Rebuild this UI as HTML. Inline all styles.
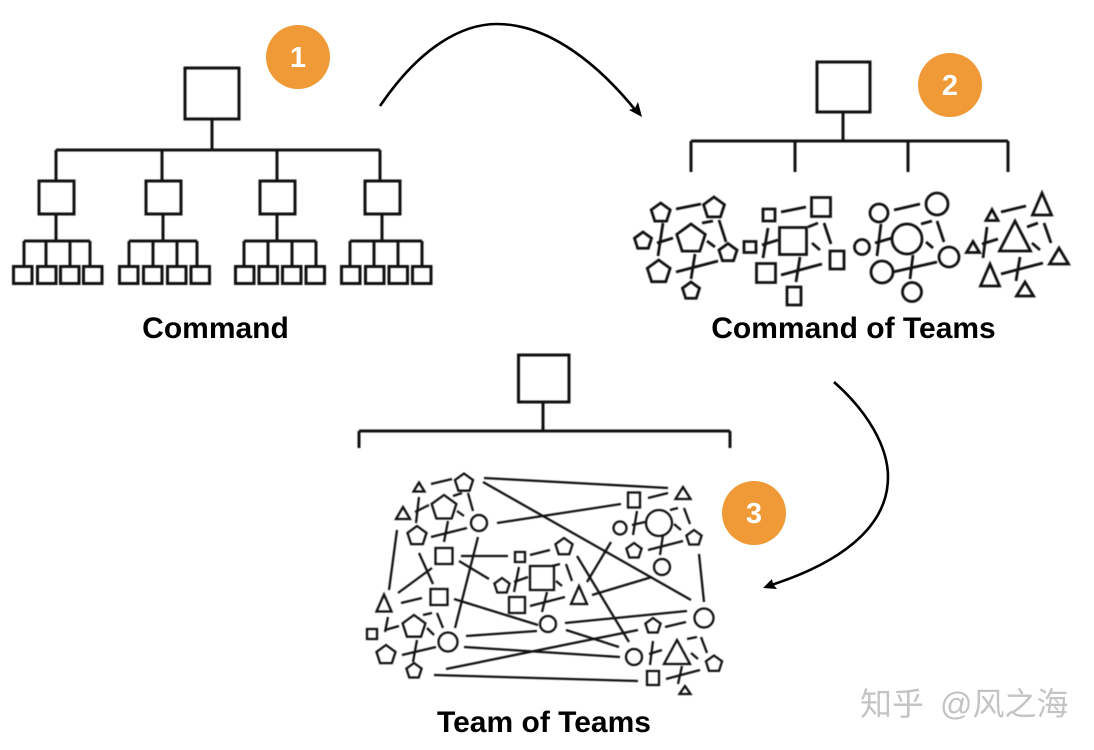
<!DOCTYPE html>
<html>
<head>
<meta charset="utf-8">
<style>
html,body{margin:0;padding:0;background:#fff;width:1094px;height:750px;overflow:hidden}
svg{display:block}
.lab{font-family:"Liberation Sans",Arial,sans-serif;font-weight:700;font-size:30px;fill:#000;text-anchor:middle}
.num{font-family:"Liberation Sans",Arial,sans-serif;font-weight:700;font-size:29px;fill:#fff;text-anchor:middle}
.wm{font-family:"Liberation Sans","Noto Sans CJK SC",sans-serif;font-size:32px;fill:#c4c4c4}
.k{fill:none;stroke:#111;vector-effect:non-scaling-stroke}
</style>
</head>
<body>
<svg width="1094" height="750" viewBox="0 0 1094 750" xmlns="http://www.w3.org/2000/svg">
<defs>
<polygon id="p" class="k" points="0,-1 .951,-.309 .588,.809 -.588,.809 -.951,-.309"/>
<polygon id="t" class="k" points="0,-.5 .5,.5 -.5,.5"/>
<rect id="s" class="k" x="-.5" y="-.5" width="1" height="1"/>
<circle id="c" class="k" r="1"/>
</defs>

<g style="filter:blur(.4px)">
<!-- Command -->
<g fill="none" stroke="#111" stroke-width="3">
<rect x="185" y="68" width="54" height="51"/>
<path d="M212 119V150M56 150H380M56 150V181M162 150V181M277 150V181M380 150V181"/>
<rect x="39" y="181" width="35" height="33"/>
<rect x="146" y="181" width="35" height="33"/>
<rect x="260" y="181" width="35" height="33"/>
<rect x="365" y="181" width="35" height="33"/>
<path d="M56 214V241M24 241H90M24 241V266M46 241V266M70 241V266M90 241V266"/>
<path d="M163 214V241M129 241H197M129 241V266M153 241V266M177 241V266M197 241V266"/>
<path d="M277 214V241M244 241H316M244 241V266M268 241V266M292 241V266M316 241V266"/>
<path d="M382 214V241M350 241H422M350 241V266M374 241V266M398 241V266M422 241V266"/>
<path d="M13.500 266.500h18.500v17h-18.500zM37.500 266.500h18.500v17h-18.500zM60.500 266.500h18.500v17h-18.500zM83.500 266.500h18.500v17h-18.500z"/>
<path d="M119.500 266.500h18.500v17h-18.500zM143.500 266.500h18.500v17h-18.500zM167.500 266.500h18.500v17h-18.500zM191 266.500h18.500v17h-18.500z"/>
<path d="M235.500 266.500h18.500v17h-18.500zM259 266.500h18.500v17h-18.500zM282.500 266.500h18.500v17h-18.500zM306 266.500h18.500v17h-18.500z"/>
<path d="M341.500 266.500h18.500v17h-18.500zM365.500 266.500h18.500v17h-18.500zM389 266.500h18.500v17h-18.500zM412.500 266.500h18.500v17h-18.500z"/>
</g>

<!-- Command of Teams -->
<g fill="none" stroke="#111" stroke-width="3">
<rect x="817" y="62" width="53" height="50"/>
<path d="M843 112V141M691 141H1008M691 141V172M795 141V172M908 141V172M1008 141V172"/>
</g>
<g stroke-width="2.800" fill="none" stroke="#111">
<path d="M676 209L701 204M702 223L713 221M719 220L726 242M707 241L715 247M663 223L658 256M657 243L673 238M695 254L691 279M676 272L718 261"/>
<path d="M781 212L806 207M808 227L818 223M824 223L831 244M812 243L820 250M768 228L763 258M762 245L778 240M800 257L796 282M781 275L822 264"/>
<path d="M894 210L920 204M921 224L932 221M937 221L944 242M926 242L933 248M881 224L877 256M875 243L892 238M913 255L910 279M893 272L937 262"/>
<path d="M1001 212L1026 206M1027 227L1038 223M1044 223L1051 243M1032 243L1040 250M987 227L983 258M982 244L998 239M1020 257L1016 281M1001 274L1043 263"/>
</g>
<g stroke-width="2.800" fill="#fff">
<use href="#p" transform="translate(660.700,213) scale(10)"/>
<use href="#p" transform="translate(714,208) scale(11)"/>
<use href="#p" transform="translate(643,241) scale(9)"/>
<use href="#p" transform="translate(691,239) scale(15)"/>
<use href="#p" transform="translate(728,253) scale(9.500)"/>
<use href="#p" transform="translate(658.700,272) scale(12)"/>
<use href="#p" transform="translate(691,291) scale(9)"/>
<use href="#s" transform="translate(769,215) scale(12)"/>
<use href="#s" transform="translate(821,207) scale(19)"/>
<use href="#s" transform="translate(750,247) scale(12,11)"/>
<use href="#s" transform="translate(793,241) scale(27)"/>
<use href="#s" transform="translate(837,260) scale(14,18)"/>
<use href="#s" transform="translate(766,273) scale(19)"/>
<use href="#s" transform="translate(794,296) scale(14,18)"/>
<use href="#c" transform="translate(879,213) scale(9)"/>
<use href="#c" transform="translate(937,204) scale(11)"/>
<use href="#c" transform="translate(862,247) scale(7.500)"/>
<use href="#c" transform="translate(907,239) scale(15)"/>
<use href="#c" transform="translate(949,257) scale(10)"/>
<use href="#c" transform="translate(882,272) scale(11)"/>
<use href="#c" transform="translate(912,292) scale(9.500)"/>
<use href="#t" transform="translate(992,215) scale(12,11)"/>
<use href="#t" transform="translate(1042,204) scale(19,22)"/>
<use href="#t" transform="translate(973,247) scale(13,11)"/>
<use href="#t" transform="translate(1015,236) scale(31,30)"/>
<use href="#t" transform="translate(1059,256) scale(19,16)"/>
<use href="#t" transform="translate(990,275) scale(19,22)"/>
<use href="#t" transform="translate(1025,289) scale(17,14)"/>
</g>

<!-- Team of Teams -->
<g fill="none" stroke="#111" stroke-width="3">
<rect x="518.500" y="355" width="50.500" height="47"/>
<path d="M543 402V431M359 431H730M359 431V448M730 431V448"/>
</g>
<g fill="none" stroke="#111" stroke-width="2.300">
<path d="M431 484L452 479M453 496L462 493M468 493L473 511M457 511L464 516M419 497L416 523M415 512L429 505M448 521L444 542M431 537L467 528"/>
<path d="M397 530L389 590M419 553L433 584M398 593L432 568M478 537L455 628M461 556L508 556M459 561L489 579M401 603L422 598M454 599L538 625"/>
<path d="M388 617L385 632M385 630L399 626M423 615L432 613M437 613L443 628M427 628L434 635M417 640L413 662M402 655L436 647"/>
<path d="M466 636L537 631M464 647L620 657M446 669L638 630M434 675L638 681M484 478L668 488M483 482L691 600M497 523L621 504"/>
<path d="M530 555L550 550M519 567L514 592M514 582L528 577M530 606L565 597M547 592L542 612M552 566L560 564M566 564L572 581M556 581L562 586"/>
<path d="M611 542L587 582M577 556L629 642M592 595L652 577M565 623L687 611M566 630L619 647M665 627L686 622M699 554L704 602"/>
<path d="M648 498L668 493M670 510L678 508M684 508L690 524M674 524L681 530M637 511L633 535M632 525L645 522M663 535L660 555M648 550L683 541"/>
<path d="M687 639L697 637M701 637L707 653M691 653L698 659M653 641L650 665M649 654L662 650M682 666L678 684M666 679L700 670"/>
</g>
<g stroke-width="2.300" fill="#fff">
<use href="#t" transform="translate(419,487) scale(11,9)"/>
<use href="#p" transform="translate(464,483) scale(9.500)"/>
<use href="#t" transform="translate(403,513) scale(14,12)"/>
<use href="#p" transform="translate(444,508) scale(13)"/>
<use href="#c" transform="translate(479,523) scale(8)"/>
<use href="#p" transform="translate(417,536) scale(10)"/>
<use href="#s" transform="translate(444,556) scale(17,16)"/>
<use href="#s" transform="translate(520,557) scale(10)"/>
<use href="#p" transform="translate(502,586) scale(8)"/>
<use href="#s" transform="translate(542,578) scale(24)"/>
<use href="#s" transform="translate(517,605) scale(16)"/>
<use href="#t" transform="translate(384,603) scale(15,17)"/>
<use href="#s" transform="translate(439,597) scale(17,16)"/>
<use href="#s" transform="translate(372,634) scale(10)"/>
<use href="#p" transform="translate(414,627) scale(12)"/>
<use href="#c" transform="translate(448,642) scale(9.500)"/>
<use href="#p" transform="translate(386,655) scale(10)"/>
<use href="#p" transform="translate(414,671) scale(8)"/>
<use href="#s" transform="translate(634,500) scale(12,15)"/>
<use href="#t" transform="translate(683,493) scale(15,12)"/>
<use href="#c" transform="translate(620,528) scale(6.500)"/>
<use href="#c" transform="translate(659,523) scale(13)"/>
<use href="#p" transform="translate(634,551) scale(8)"/>
<use href="#p" transform="translate(694,538) scale(8)"/>
<use href="#c" transform="translate(662,567) scale(8)"/>
<use href="#p" transform="translate(564,547) scale(9)"/>
<use href="#t" transform="translate(579,595) scale(16,18)"/>
<use href="#c" transform="translate(548,624) scale(8)"/>
<use href="#c" transform="translate(704,618) scale(9.500)"/>
<use href="#p" transform="translate(653,626) scale(8)"/>
<use href="#c" transform="translate(634,657) scale(8)"/>
<use href="#t" transform="translate(677,652) scale(26,24)"/>
<use href="#p" transform="translate(714,664) scale(8.500)"/>
<use href="#s" transform="translate(653,678) scale(12,14)"/>
<use href="#t" transform="translate(685,690) scale(11,8)"/>
</g>
</g>

<!-- Arrows -->
<g fill="none" stroke="#000" stroke-width="2.600">
<path d="M380 106C420 47 462 24 497 24C550 24 600 66 637 112"/>
<path d="M834 382C868 412 888 447 888 477C888 530 835 565 768 586"/>
</g>
<polygon points="642,117 629,110 635,108 638,102" fill="#000"/>
<polygon points="763,588 772,579 773,584 777,589" fill="#000"/>

<!-- Badges -->
<circle cx="298" cy="57" r="32" fill="#f09a37"/>
<circle cx="950" cy="85" r="32" fill="#f09a37"/>
<circle cx="754" cy="513" r="32" fill="#f09a37"/>
<text class="num" x="298" y="67">1</text>
<text class="num" x="950" y="95">2</text>
<text class="num" x="754" y="523">3</text>

<!-- Labels -->
<text class="lab" x="215.500" y="338">Command</text>
<text class="lab" x="853.500" y="338">Command of Teams</text>
<text class="lab" x="544" y="732">Team of Teams</text>

<!-- Watermark -->
<text class="wm" x="860" y="715">知乎</text>
<text class="wm" x="940" y="715">@风之海</text>
</svg>
</body>
</html>
